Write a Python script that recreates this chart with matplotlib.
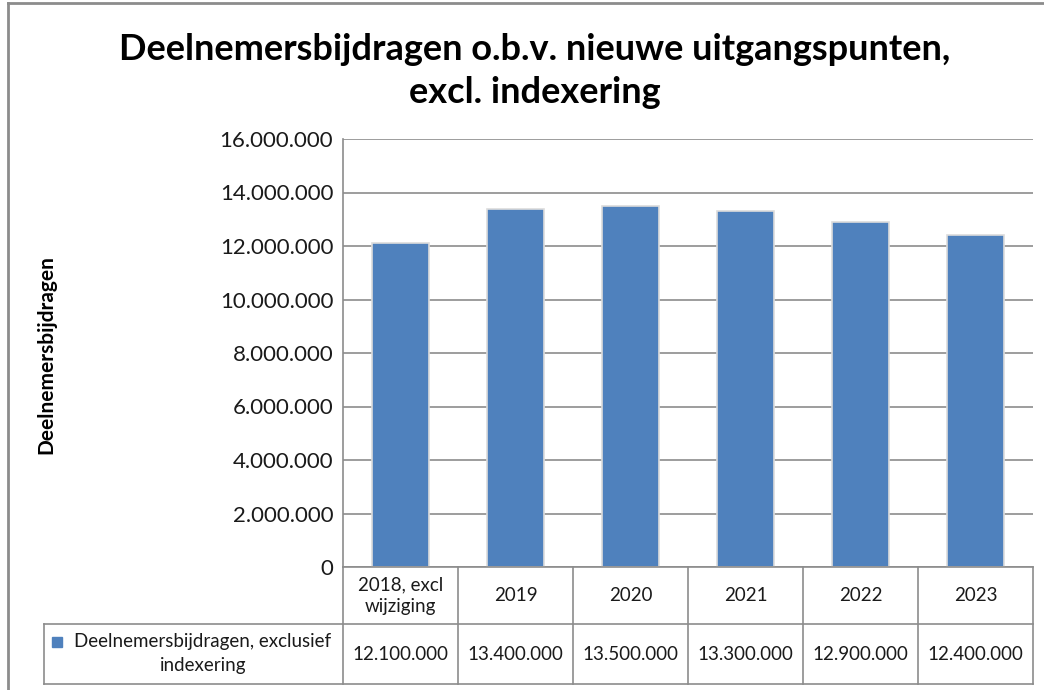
import matplotlib.pyplot as plt
from matplotlib.lines import Line2D
from matplotlib.patches import Rectangle

# Data
categories = ['2018, excl\nwijziging', '2019', '2020', '2021', '2022', '2023']
values = [12100000, 13400000, 13500000, 13300000, 12900000, 12400000]
series_name = 'Deelnemersbijdragen, exclusief\nindexering'
yticks = [0, 2000000, 4000000, 6000000, 8000000, 10000000, 12000000, 14000000, 16000000]

plt.rcParams['font.family'] = ['Lato', 'DejaVu Sans']

W, H = 1044, 690
fig = plt.figure(figsize=(W / 100, H / 100), dpi=100)

def fmt(v):
    return f'{v:,}'.replace(',', '.')

# figure-pixel helpers (y from top)
def fx(px):
    return px / W

def fy(py):
    return 1 - py / H

grey = '#8c8c8c'
txt = '#1a1a1a'

# outer chart border (left and top visible)
fig.add_artist(Line2D([fx(8), fx(8)], [fy(3), 0], color=grey, lw=2))
fig.add_artist(Line2D([fx(8), 1], [fy(3), fy(3)], color=grey, lw=2))

left, right, top, bottom = 343, 1033, 139, 567
ax = fig.add_axes([fx(left), fy(bottom), fx(right - left), (bottom - top) / H])

x = range(len(values))
ax.bar(x, values, width=0.5, color='#4F81BD', edgecolor='#dcdcdc', linewidth=1.2, zorder=3)
ax.set_xlim(-0.5, len(values) - 0.5)
ax.set_ylim(0, 16000000)
ax.set_yticks(yticks)
ax.set_yticklabels([fmt(v) for v in yticks], fontsize=16, color=txt)
ax.set_xticks([])
ax.tick_params(axis='y', length=0, pad=7)
ax.grid(axis='y', color=grey, lw=1.2, zorder=0)
for s in ['top', 'right', 'bottom']:
    ax.spines[s].set_visible(False)
ax.spines['left'].set_color(grey)
ax.spines['left'].set_linewidth(1.2)

# data table below the axis
col_w = (right - left) / len(values)
row1_top, row1_bot, row2_bot = 567, 624, 684
legend_left = 44

fig.add_artist(Line2D([fx(left), fx(right)], [fy(row1_top), fy(row1_top)], color=grey, lw=1.2))
fig.add_artist(Line2D([fx(legend_left), fx(right)], [fy(row1_bot), fy(row1_bot)], color=grey, lw=1.2))
fig.add_artist(Line2D([fx(legend_left), fx(right)], [fy(row2_bot), fy(row2_bot)], color=grey, lw=1.2))
fig.add_artist(Line2D([fx(legend_left), fx(legend_left)], [fy(row1_bot), fy(row2_bot)], color=grey, lw=1.2))
for i in range(len(values) + 1):
    px = left + i * col_w
    fig.add_artist(Line2D([fx(px), fx(px)], [fy(row1_top), fy(row2_bot)], color=grey, lw=1.2))

for i, (cat, v) in enumerate(zip(categories, values)):
    cx = left + (i + 0.5) * col_w
    fig.text(fx(cx), fy((row1_top + row1_bot) / 2), cat, ha='center', va='center',
             fontsize=13.5, color=txt, linespacing=1.35)
    fig.text(fx(cx), fy((row1_bot + row2_bot) / 2), fmt(v), ha='center', va='center',
             fontsize=13.5, color=txt)

# legend key in the table
fig.add_artist(Rectangle((fx(52), fy(647)), 10 / W, 10 / H, color='#4F81BD'))
fig.text(fx(203), fy((row1_bot + row2_bot) / 2), series_name, ha='center', va='center',
         fontsize=13.5, color=txt, linespacing=1.5)

# title and axis label
fig.text(fx(535), fy(71), 'Deelnemersbijdragen o.b.v. nieuwe uitgangspunten,\nexcl. indexering',
         ha='center', va='center', fontsize=26, fontweight='bold', linespacing=1.35)
fig.text(fx(46), fy(355), 'Deelnemersbijdragen', rotation=90, ha='center', va='center',
         fontsize=15, fontweight='bold')

fig.savefig('out.png', dpi=100)
